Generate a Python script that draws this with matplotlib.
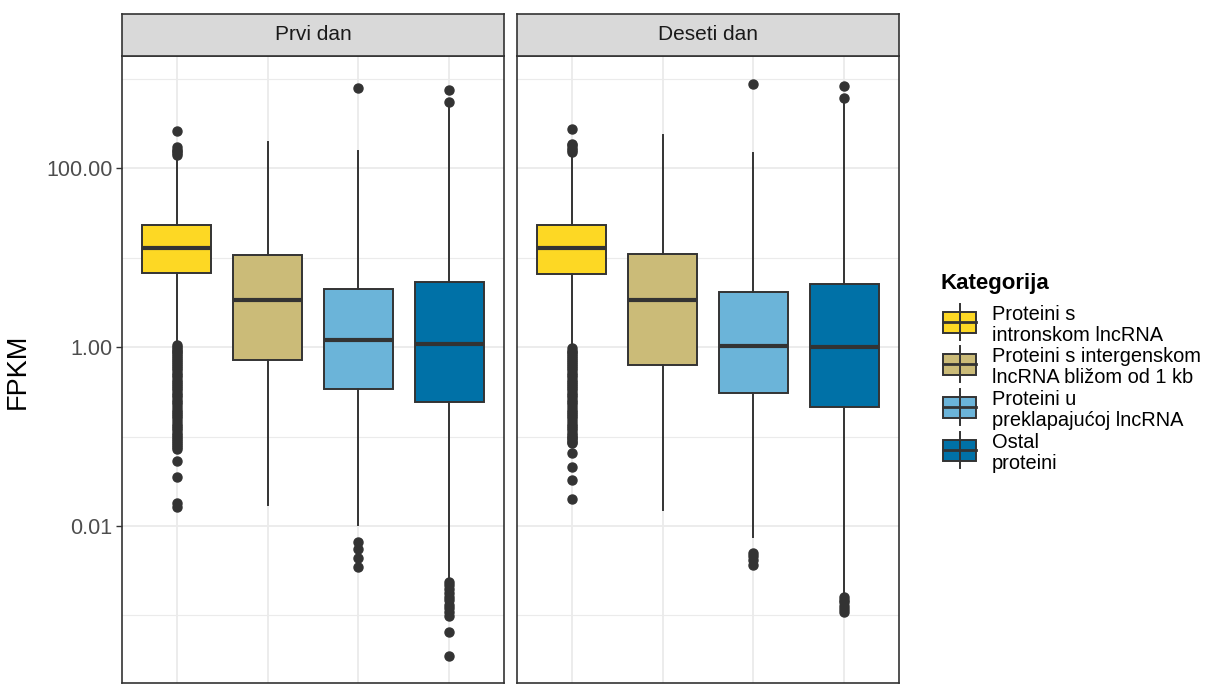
import matplotlib.pyplot as plt
from matplotlib.patches import Rectangle
from matplotlib.lines import Line2D

plt.rcParams['font.family'] = ['Liberation Sans', 'DejaVu Sans']

panels = ['Prvi dan', 'Deseti dan']
categories = ['Proteini s\nintronskom lncRNA',
              'Proteini s intergenskom\nlncRNA bližom od 1 kb',
              'Proteini u\npreklapajućoj lncRNA',
              'Ostal\nproteini']
colors = ['#FDD824', '#CBBB78', '#6BB4D9', '#0071A7']

# box statistics (FPKM)
q1_prvi = [6.8, 0.72, 0.339, 0.243]
med_prvi = [12.8, 3.38, 1.21, 1.09]
q3_prvi = [23.2, 10.8, 4.49, 5.33]
lo_prvi = [1.15, 0.0172, 0.0103, 0.0025]
hi_prvi = [135, 196, 158, 525]

q1_deseti = [6.6, 0.634, 0.310, 0.217]
med_deseti = [13.0, 3.38, 1.03, 1.0]
q3_deseti = [23.3, 11.1, 4.19, 5.1]
lo_deseti = [1.02, 0.0151, 0.0076, 0.0017]
hi_deseti = [141, 237, 148, 569]

# outliers
out_prvi = [
    [142, 148, 155, 162, 175, 263,
     1.05, 1.0, 0.95, 0.91, 0.88, 0.84, 0.8, 0.76, 0.72, 0.68, 0.65, 0.61,
     0.58, 0.55, 0.52, 0.49, 0.46, 0.43, 0.41, 0.39, 0.37, 0.35, 0.33, 0.31,
     0.29, 0.275, 0.26, 0.245, 0.23, 0.215, 0.2, 0.19, 0.18, 0.17, 0.16,
     0.15, 0.14, 0.132, 0.125, 0.118, 0.11, 0.105, 0.1, 0.095, 0.09, 0.085,
     0.08, 0.076, 0.072, 0.053, 0.035, 0.018, 0.0165],
    [],
    [802, 0.0067, 0.0055, 0.0044, 0.0035],
    [559, 755, 0.0024, 0.0022, 0.002, 0.0018, 0.0016, 0.0015, 0.0013,
     0.0012, 0.0011, 0.00098, 0.00066, 0.00035],
]
out_deseti = [
    [151, 160, 170, 182, 190, 275,
     0.97, 0.92, 0.88, 0.84, 0.8, 0.76, 0.72, 0.68, 0.65, 0.61, 0.58, 0.55,
     0.52, 0.49, 0.46, 0.43, 0.41, 0.39, 0.37, 0.35, 0.33, 0.31, 0.29, 0.275,
     0.26, 0.245, 0.23, 0.215, 0.2, 0.19, 0.18, 0.17, 0.16, 0.15, 0.14,
     0.132, 0.125, 0.118, 0.11, 0.105, 0.1, 0.096, 0.092, 0.088, 0.085,
     0.066, 0.046, 0.033, 0.020],
    [],
    [875, 0.00497, 0.00457, 0.00417, 0.00367],
    [610, 843, 0.00162, 0.0015, 0.0014, 0.00128, 0.00118, 0.0011],
]

panel_data = [
    (q1_prvi, med_prvi, q3_prvi, lo_prvi, hi_prvi, out_prvi),
    (q1_deseti, med_deseti, q3_deseti, lo_deseti, hi_deseti, out_deseti),
]

W, H = 1206, 684
fig = plt.figure(figsize=(W / 100, H / 100), dpi=100)

dark = '#333333'
grid_col = '#EBEBEB'
lefts = [122, 517]
pw = 382
top, bottom = 56, 683

for i, (name, (q1, med, q3, lo, hi, outs)) in enumerate(zip(panels, panel_data)):
    ax = fig.add_axes([lefts[i] / W, (H - bottom) / H, pw / W, (bottom - top) / H])
    stats = []
    for k in range(4):
        stats.append(dict(q1=q1[k], med=med[k], q3=q3[k], whislo=lo[k],
                          whishi=hi[k], fliers=outs[k]))
    bp = ax.bxp(stats, positions=[1, 2, 3, 4], widths=0.75, patch_artist=True,
                showcaps=False,
                boxprops=dict(edgecolor=dark, linewidth=1.4),
                whiskerprops=dict(color=dark, linewidth=1.4),
                medianprops=dict(color=dark, linewidth=3.0),
                flierprops=dict(marker='o', markersize=6.5, markerfacecolor=dark,
                                markeredgecolor=dark, linestyle='none'))
    for patch, c in zip(bp['boxes'], colors):
        patch.set_facecolor(c)
    ax.set_yscale('log')
    ax.set_xlim(0.4, 4.6)
    ax.set_ylim(10 ** -3.755, 10 ** 3.258)
    ax.set_yticks([0.01, 1, 100])
    ax.set_yticks([0.001, 0.1, 10, 1000], minor=True)
    ax.set_xticks([1, 2, 3, 4])
    ax.set_xticklabels([])
    ax.grid(True, which='major', color=grid_col, linewidth=1.3, zorder=0)
    ax.grid(True, which='minor', axis='y', color=grid_col, linewidth=0.8, zorder=0)
    ax.set_axisbelow(True)
    ax.tick_params(axis='x', length=0)
    ax.tick_params(axis='y', which='minor', length=0, labelleft=False)
    if i == 0:
        ax.set_yticklabels(['0.01', '1.00', '100.00'])
        ax.tick_params(axis='y', which='major', length=4, width=1, color=dark,
                       labelsize=15.5, labelcolor='#4D4D4D', pad=3)
    else:
        ax.tick_params(axis='y', which='major', length=0, labelleft=False)
    for s in ax.spines.values():
        s.set_color(dark)
        s.set_linewidth(1.2)

    # facet strip
    sax = fig.add_axes([lefts[i] / W, (H - top) / H, pw / W, 42 / H])
    sax.set_facecolor('#D9D9D9')
    sax.set_xticks([])
    sax.set_yticks([])
    for s in sax.spines.values():
        s.set_color(dark)
        s.set_linewidth(1.2)
    sax.text(0.5, 0.5, name, ha='center', va='center', fontsize=15,
             color='#1A1A1A', transform=sax.transAxes)

fig.text(18 / W, 1 - 371 / H, 'FPKM', rotation=90, ha='center', va='center',
         fontsize=19.5, color='black')

# legend drawn in pixel coordinates
lax = fig.add_axes([0, 0, 1, 1])
lax.set_xlim(0, W)
lax.set_ylim(H, 0)
lax.axis('off')
lax.text(940, 289, 'Kategorija', fontsize=16, fontweight='bold', va='baseline', ha='left')
key_y = [322, 364, 407, 450]
for yc, c, lab in zip(key_y, colors, categories):
    lax.add_line(Line2D([960, 960], [yc - 18, yc + 18], color=dark, linewidth=1.4))
    lax.add_patch(Rectangle((943, yc - 10.5), 33, 21, facecolor=c, edgecolor=dark,
                            linewidth=1.4))
    lax.add_line(Line2D([943, 976], [yc, yc], color=dark, linewidth=2.0))
    lines = lab.split('\n')
    lax.text(992, yc - 2, lines[0], fontsize=14.4, va='baseline', ha='left')
    lax.text(992, yc + 19, lines[1], fontsize=14.4, va='baseline', ha='left')

fig.savefig('out.png', dpi=100)
